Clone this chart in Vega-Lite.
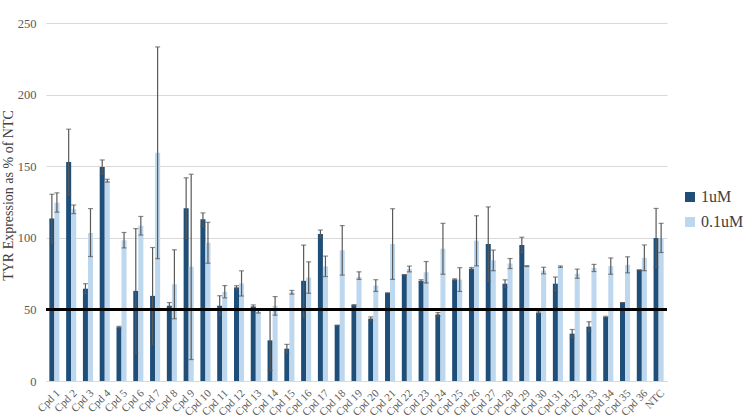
{
  "$schema": "https://vega.github.io/schema/vega-lite/v6.json",
  "width": 621,
  "height": 372,
  "autosize": {"type": "none"},
  "padding": {"left": 46, "top": 9, "right": 83, "bottom": 39},
  "data": {"values": [
    {"cpd":"Cpd 1","conc":"1uM","value":113.5,"lo":96.5,"hi":130.5},{"cpd":"Cpd 1","conc":"0.1uM","value":124.5,"lo":118,"hi":131.5},
    {"cpd":"Cpd 2","conc":"1uM","value":153,"lo":130,"hi":176},{"cpd":"Cpd 2","conc":"0.1uM","value":120,"lo":117,"hi":123},
    {"cpd":"Cpd 3","conc":"1uM","value":64.5,"lo":61,"hi":68},{"cpd":"Cpd 3","conc":"0.1uM","value":103.5,"lo":87,"hi":120.5},
    {"cpd":"Cpd 4","conc":"1uM","value":149.5,"lo":144.5,"hi":154.5},{"cpd":"Cpd 4","conc":"0.1uM","value":140,"lo":139,"hi":141},
    {"cpd":"Cpd 5","conc":"1uM","value":37.6,"lo":37,"hi":38.2},{"cpd":"Cpd 5","conc":"0.1uM","value":98.4,"lo":93,"hi":103.8},
    {"cpd":"Cpd 6","conc":"1uM","value":63,"lo":19.5,"hi":106.5},{"cpd":"Cpd 6","conc":"0.1uM","value":108.5,"lo":102,"hi":115},
    {"cpd":"Cpd 7","conc":"1uM","value":59.5,"lo":25.7,"hi":93.3},{"cpd":"Cpd 7","conc":"0.1uM","value":159.5,"lo":85.5,"hi":233.5},
    {"cpd":"Cpd 8","conc":"1uM","value":52.6,"lo":50.4,"hi":54.8},{"cpd":"Cpd 8","conc":"0.1uM","value":67.6,"lo":43.5,"hi":91.7},
    {"cpd":"Cpd 9","conc":"1uM","value":120.8,"lo":99.7,"hi":142},{"cpd":"Cpd 9","conc":"0.1uM","value":80,"lo":15,"hi":144.5},
    {"cpd":"Cpd 10","conc":"1uM","value":113,"lo":108,"hi":117.5},{"cpd":"Cpd 10","conc":"0.1uM","value":96.6,"lo":82.3,"hi":110.9},
    {"cpd":"Cpd 11","conc":"1uM","value":52.6,"lo":45.8,"hi":59.6},{"cpd":"Cpd 11","conc":"0.1uM","value":62.4,"lo":58.1,"hi":66.7},
    {"cpd":"Cpd 12","conc":"1uM","value":65.4,"lo":64.2,"hi":66.6},{"cpd":"Cpd 12","conc":"0.1uM","value":68.2,"lo":59.4,"hi":77},
    {"cpd":"Cpd 13","conc":"1uM","value":52.1,"lo":51,"hi":53.2},{"cpd":"Cpd 13","conc":"0.1uM","value":48.5,"lo":47.5,"hi":49.5},
    {"cpd":"Cpd 14","conc":"1uM","value":28.4,"lo":7.4,"hi":49.4},{"cpd":"Cpd 14","conc":"0.1uM","value":52.6,"lo":46,"hi":59},
    {"cpd":"Cpd 15","conc":"1uM","value":22.6,"lo":19.7,"hi":25.6},{"cpd":"Cpd 15","conc":"0.1uM","value":62,"lo":60.7,"hi":63.3},
    {"cpd":"Cpd 16","conc":"1uM","value":70,"lo":45,"hi":95},{"cpd":"Cpd 16","conc":"0.1uM","value":72.3,"lo":61.3,"hi":83.3},
    {"cpd":"Cpd 17","conc":"1uM","value":102.7,"lo":100,"hi":105.5},{"cpd":"Cpd 17","conc":"0.1uM","value":80.1,"lo":73,"hi":87.3},
    {"cpd":"Cpd 18","conc":"1uM","value":38.9,"lo":38.9,"hi":38.9},{"cpd":"Cpd 18","conc":"0.1uM","value":91.3,"lo":74,"hi":108.6},
    {"cpd":"Cpd 19","conc":"1uM","value":53,"lo":52.6,"hi":53.4},{"cpd":"Cpd 19","conc":"0.1uM","value":72.7,"lo":71,"hi":76.3},
    {"cpd":"Cpd 20","conc":"1uM","value":43.6,"lo":42.4,"hi":44.8},{"cpd":"Cpd 20","conc":"0.1uM","value":66.7,"lo":62.6,"hi":70.8},
    {"cpd":"Cpd 21","conc":"1uM","value":61.5,"lo":61.5,"hi":61.5},{"cpd":"Cpd 21","conc":"0.1uM","value":95.7,"lo":71,"hi":120.4},
    {"cpd":"Cpd 22","conc":"1uM","value":74.3,"lo":74.3,"hi":74.3},{"cpd":"Cpd 22","conc":"0.1uM","value":78.3,"lo":76.3,"hi":80.3},
    {"cpd":"Cpd 23","conc":"1uM","value":70,"lo":69.2,"hi":70.8},{"cpd":"Cpd 23","conc":"0.1uM","value":76,"lo":68.5,"hi":83.5},
    {"cpd":"Cpd 24","conc":"1uM","value":46.5,"lo":45.2,"hi":47.8},{"cpd":"Cpd 24","conc":"0.1uM","value":92.4,"lo":74.6,"hi":110.2},
    {"cpd":"Cpd 25","conc":"1uM","value":70.9,"lo":70.4,"hi":71.4},{"cpd":"Cpd 25","conc":"0.1uM","value":70.9,"lo":62.6,"hi":79.2},
    {"cpd":"Cpd 26","conc":"1uM","value":78.5,"lo":77.7,"hi":79.3},{"cpd":"Cpd 26","conc":"0.1uM","value":98,"lo":80.5,"hi":115.5},
    {"cpd":"Cpd 27","conc":"1uM","value":95.7,"lo":69.7,"hi":121.7},{"cpd":"Cpd 27","conc":"0.1uM","value":84.3,"lo":77.1,"hi":91.5},
    {"cpd":"Cpd 28","conc":"1uM","value":68,"lo":65.3,"hi":70.7},{"cpd":"Cpd 28","conc":"0.1uM","value":82.1,"lo":78.6,"hi":85.6},
    {"cpd":"Cpd 29","conc":"1uM","value":95.1,"lo":89.7,"hi":100.5},{"cpd":"Cpd 29","conc":"0.1uM","value":80.3,"lo":80,"hi":80.6},
    {"cpd":"Cpd 30","conc":"1uM","value":47.9,"lo":46.9,"hi":48.9},{"cpd":"Cpd 30","conc":"0.1uM","value":77.2,"lo":74.9,"hi":79.5},
    {"cpd":"Cpd 31","conc":"1uM","value":68,"lo":63.3,"hi":72.7},{"cpd":"Cpd 31","conc":"0.1uM","value":79.9,"lo":79.4,"hi":80.4},
    {"cpd":"Cpd 32","conc":"1uM","value":33.1,"lo":30.2,"hi":36},{"cpd":"Cpd 32","conc":"0.1uM","value":75,"lo":71.8,"hi":78.2},
    {"cpd":"Cpd 33","conc":"1uM","value":38,"lo":34.6,"hi":41.4},{"cpd":"Cpd 33","conc":"0.1uM","value":79,"lo":76.5,"hi":81.5},
    {"cpd":"Cpd 34","conc":"1uM","value":44.7,"lo":44.2,"hi":45.2},{"cpd":"Cpd 34","conc":"0.1uM","value":80.3,"lo":74.6,"hi":86},
    {"cpd":"Cpd 35","conc":"1uM","value":54.8,"lo":54.8,"hi":54.8},{"cpd":"Cpd 35","conc":"0.1uM","value":81.2,"lo":75.6,"hi":86.8},
    {"cpd":"Cpd 36","conc":"1uM","value":77.6,"lo":77.6,"hi":77.6},{"cpd":"Cpd 36","conc":"0.1uM","value":86.1,"lo":77.1,"hi":95.1},
    {"cpd":"NTC","conc":"1uM","value":100,"lo":79.4,"hi":120.6},{"cpd":"NTC","conc":"0.1uM","value":100,"lo":89.8,"hi":110.2}
  ]},
  "encoding": {
    "x": {"field": "cpd", "type": "nominal", "sort": null,
      "scale": {"paddingInner": 0.4, "paddingOuter": 0.2},
      "axis": {"title": null, "labelAngle": -45, "labelAlign": "right", "labelBaseline": "top", "labelFontSize": 11, "labelPadding": 6, "ticks": false, "domainColor": "#d9d9d9", "labelColor": "#595959"}},
    "xOffset": {"field": "conc", "type": "nominal", "sort": ["1uM", "0.1uM"], "scale": {"paddingInner": 0}}
  },
  "layer": [
    {
      "mark": {"type": "bar"},
      "encoding": {
        "y": {"field": "value", "type": "quantitative",
          "scale": {"domain": [0, 250]},
          "axis": {"title": "TYR Expression  as % of NTC", "values": [0, 50, 100, 150, 200, 250], "titleFontSize": 14, "titleFontWeight": "normal", "titleColor": "#404040", "titlePadding": 2, "labelFontSize": 12.5, "labelColor": "#595959", "domain": false, "ticks": false, "labelPadding": 10, "gridColor": "#d9d9d9"}},
        "color": {"field": "conc", "type": "nominal", "sort": ["1uM", "0.1uM"],
          "scale": {"domain": ["1uM", "0.1uM"], "range": ["#1f4e79", "#bdd7ee"]},
          "legend": {"title": null, "orient": "none", "legendX": 636, "legendY": 180, "symbolType": "square", "symbolSize": 100, "symbolStrokeWidth": 0, "labelFontSize": 16, "labelColor": "#404040", "rowPadding": 9, "labelOffset": 3}}
      }
    },
    {
      "mark": {"type": "rule", "color": "#595959", "strokeWidth": 1.2},
      "encoding": {
        "y": {"field": "lo", "type": "quantitative"},
        "y2": {"field": "hi"}
      }
    },
    {
      "mark": {"type": "tick", "color": "#595959", "thickness": 1.2, "size": 5, "orient": "horizontal"},
      "encoding": {"y": {"field": "hi", "type": "quantitative"}}
    },
    {
      "mark": {"type": "tick", "color": "#595959", "thickness": 1.2, "size": 5, "orient": "horizontal"},
      "encoding": {"y": {"field": "lo", "type": "quantitative"}}
    },
    {
      "mark": {"type": "rule", "color": "black", "strokeWidth": 2},
      "encoding": {"y": {"datum": 50}, "xOffset": null, "x": null}
    }
  ],
  "config": {
    "font": "Liberation Serif",
    "view": {"stroke": null},
    "background": "white"
  }
}
